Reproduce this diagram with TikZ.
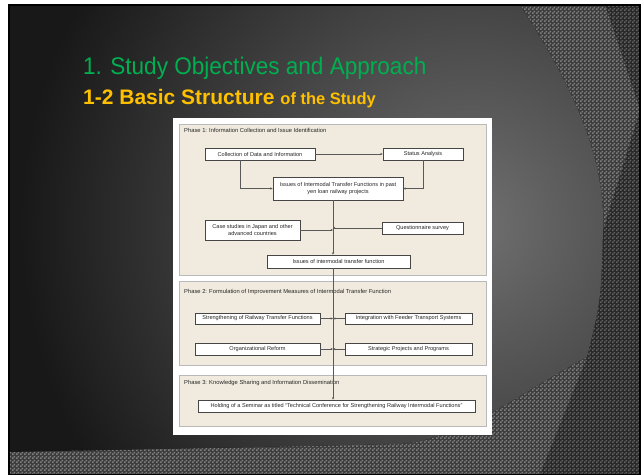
\documentclass[tikz,border=0pt]{standalone}
\usepackage{fontspec}
\setmainfont{Liberation Sans}
\newfontfamily\titlefont[FakeStretch=0.94]{Liberation Sans}
\usetikzlibrary{positioning,patterns.meta,arrows.meta}
\definecolor{slidegreen}{RGB}{0,176,80}
\definecolor{slideorange}{RGB}{255,192,0}
\definecolor{panelbeige}{RGB}{240,235,222}
\definecolor{boxline}{RGB}{70,70,70}
\definecolor{checkbase}{RGB}{40,40,40}
\definecolor{checkdot}{RGB}{98,98,98}
\definecolor{checkbaselt}{RGB}{60,60,60}
\definecolor{checkdotlt}{RGB}{128,128,128}
\definecolor{glossin}{RGB}{112,112,112}
\definecolor{glossout}{RGB}{24,24,24}
\tikzdeclarepattern{name=finechecker, type=uncolored,
  bottom left={(0pt,0pt)}, top right={(4pt,4pt)}, tile size={(4pt,4pt)},
  code={\fill (0pt,0pt) rectangle (2pt,2pt); \fill (2pt,2pt) rectangle (4pt,4pt);}}

\begin{document}
\begin{tikzpicture}[x=1pt, y=-1pt, >={Stealth[length=2.4pt,width=2.2pt]},
  phase/.style={draw=gray!55, fill=panelbeige, line width=0.4pt},
  phasetitle/.style={anchor=west, inner sep=0pt, font=\fontsize{5.8}{6.5}\selectfont, text=black!85},
  proc/.style={draw=boxline, fill=white, line width=0.7pt, inner sep=1pt, align=center, font=\fontsize{5.6}{6.4}\selectfont, text=black!85},
  link/.style={draw=black!65, line width=0.5pt}]
\useasboundingbox (0,0) rectangle (644,474);
\fill[white] (0,0) rectangle (644,474);

% slide background
\fill[checkbase] (9,5) rectangle (640,474);
\fill[pattern=finechecker, pattern color=checkdot] (9,5) rectangle (640,474);
\fill[checkbaselt] (520,5) -- (605,5) -- (640,110) -- (603,230) -- cycle;
\fill[pattern=finechecker, pattern color=checkdotlt] (520,5) -- (605,5) -- (640,110) -- (603,230) -- cycle;
\fill[checkbaselt] (587,357) -- (540,474) -- (9,474) -- (9,440) -- (400,440) -- cycle;
\fill[pattern=finechecker, pattern color=checkdotlt] (587,357) -- (540,474) -- (9,474) -- (9,440) -- (400,440) -- cycle;
\begin{scope}
  \clip (9,5) -- (520,5) .. controls (565,75) and (606,150) .. (603,230)
    .. controls (601,300) .. (587,357)
    .. controls (520,392) and (470,437) .. (400,444) -- (9,452) -- cycle;
  \fill[glossout] (9,5) rectangle (640,474);
  \shade[inner color=glossin, outer color=glossout] (470,225) circle (450);
\end{scope}
\draw[black, line width=2pt] (9,5) rectangle (640,475);

% headings
\node[anchor=base west, inner sep=0pt, text=slidegreen, font=\titlefont\fontsize{24}{28}\selectfont] (head) at (83,74) {1. Study Objectives and Approach};
\node[anchor=base west, inner sep=0pt, text=slideorange, font=\bfseries] (subhead) at (83,104) {\fontsize{21}{24}\selectfont 1-2 Basic Structure \fontsize{16.5}{20}\selectfont of the Study};

% figure
\fill[white] (173,118) rectangle (492,435);
\draw[phase] (179,124) rectangle (486,275);
\draw[phase] (179,281) rectangle (486,365);
\draw[phase] (179,375) rectangle (486,426);
\node[phasetitle] (ph1) at (184,130) {Phase 1: Information Collection and Issue Identification};
\node[phasetitle] (ph2) at (184,292) {Phase 2: Formulation of Improvement Measures of Intermodal Transfer Function};
\node[phasetitle] (ph3) at (184,383) {Phase 3: Knowledge Sharing and Information Dissemination};

\coordinate (spx) at (333,0);

\node[proc, minimum width=110pt, minimum height=12pt] (coll) at (260,154) {Collection of Data and Information};
\node[proc, minimum width=80pt, minimum height=12pt] (stat) at (423,154) {Status Analysis};
\node[proc, minimum width=130pt, minimum height=23pt] (issp) at (338,188.5) {Issues of Intermodal Transfer Functions in past\\yen loan railway projects};
\node[proc, minimum width=95pt, minimum height=20pt] (case) at (252.5,230) {Case studies in Japan and other\\advanced countries};
\node[proc, minimum width=81pt, minimum height=12pt] (quest) at (422.5,228) {Questionnaire survey};
\node[proc, minimum width=143pt, minimum height=13pt] (issf) at (338.5,261.5) {Issues of intermodal transfer function};

\node[proc, minimum width=125pt, minimum height=11pt] (stren) at (257.5,318.5) {Strengthening of Railway Transfer Functions};
\node[proc, minimum width=127pt, minimum height=11pt] (integ) at (408.5,318.5) {Integration with Feeder Transport Systems};
\node[proc, minimum width=125pt, minimum height=12pt] (org) at (257.5,349) {Organizational Reform};
\node[proc, minimum width=127pt, minimum height=12pt] (strat) at (408.5,349) {Strategic Projects and Programs};

\node[proc, minimum width=277pt, minimum height=12pt] (semi) at (336.5,406) {Holding of a Seminar as titled ``Technical Conference for Strengthening Railway Intermodal Functions''};

% connectors
\draw[link, ->] (coll) -- (stat);
\draw[link, ->] ([xshift=-20pt]coll.south) |- (issp.west);
\draw[link, ->] (stat.south) |- (issp.east);
\draw[link, ->] (issp.south -| spx) -- (issf.north -| spx);
\draw[link, ->] (case.east) -- (case.east -| spx);
\draw[link, ->] (quest.west) -- (quest.west -| spx);
\draw[link, ->] (issf.south -| spx) -- (semi.north -| spx);
\draw[link, ->] (stren.east) -- (stren.east -| spx);
\draw[link, ->] (integ.west) -- (integ.west -| spx);
\draw[link, ->] (org.east) -- (org.east -| spx);
\draw[link, ->] (strat.west) -- (strat.west -| spx);
\end{tikzpicture}
\end{document}
